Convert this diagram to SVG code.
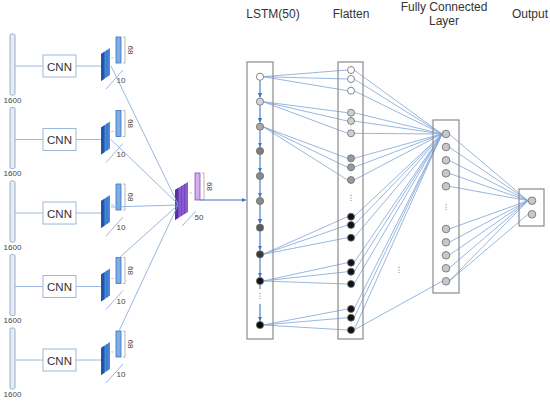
<svg xmlns="http://www.w3.org/2000/svg" width="550" height="401" viewBox="0 0 550 401">
<style>
.t{font-family:"Liberation Sans",Arial,sans-serif;fill:#333}
.lbl{font-size:12px;text-anchor:middle}
.sm{font-size:8px;text-anchor:middle;fill:#444}
.bar{fill:#e8ecf3;stroke:#8ea6c8;stroke-width:0.9}
.cnn{fill:#fff;stroke:#9cb8dc;stroke-width:1}
.ln{stroke:#9cb8dc;stroke-width:1;fill:none}
.cn{stroke:#7ea4d8;stroke-width:0.8;fill:none}
.box{fill:none;stroke:#8a8a8a;stroke-width:1.2}
.nd{stroke:#6a6a6a;stroke-width:0.8}
.arr{stroke:#3d74c8;stroke-width:1.1;fill:none;marker-end:url(#ah)}
.dots{stroke:#777;stroke-width:1;stroke-dasharray:1 1.6;fill:none}
.fdots{stroke:#bbb;stroke-width:0.8;stroke-dasharray:0.8 1.2;fill:none}
</style>
<defs>
<marker id="ah" markerWidth="6" markerHeight="6" refX="4.5" refY="3" orient="auto" markerUnits="userSpaceOnUse">
<path d="M0,0.8 L4.5,3 L0,5.2 Z" fill="#3d74c8"/>
</marker>
<g id="row">
<rect class="bar" x="10" y="34" width="5" height="61" rx="1.5"/>
<text class="t sm" x="12.5" y="102.5">1600</text>
<line class="ln" x1="15" y1="66" x2="43" y2="66"/>
<rect class="cnn" x="43" y="55" width="33" height="22"/>
<text class="t lbl" x="59.5" y="70.5" style="font-size:11.5px">CNN</text>
<line class="ln" x1="76" y1="66" x2="102" y2="66"/>
<polygon points="101,54 110,48 110,75 101,81" fill="#4a86dc"/>
<polygon points="101,54 104.5,51.7 104.5,78.7 101,81" fill="#1f56a8"/>
<line x1="107" y1="50" x2="107" y2="77" stroke="#2a64bc" stroke-width="0.7"/>
<line x1="111" y1="58" x2="114" y2="58" stroke="#aaa" stroke-width="0.6"/>
<rect x="116" y="37" width="5" height="26" fill="#7eaee8" stroke="#3a70c0" stroke-width="0.8"/>
<path d="M123,37 h2 v26 h-2" fill="none" stroke="#999" stroke-width="0.7"/>
<text class="t sm" transform="translate(127.5,50) rotate(90)" style="font-size:8px">68</text>
<line x1="106" y1="89" x2="123" y2="70" stroke="#7ea4d8" stroke-width="0.8"/>
<text class="t sm" x="121" y="83">10</text>
</g>
</defs>

<g id="input-rows">
<g id="row1"><use href="#row"/></g>
<g id="row2"><use href="#row" transform="translate(0,73.5)"/></g>
<g id="row3"><use href="#row" transform="translate(0,147)"/></g>
<g id="row4"><use href="#row" transform="translate(0,220.5)"/></g>
<g id="row5"><use href="#row" transform="translate(0,294)"/></g>
</g>

<g id="merge">
<polygon points="175,190 188,182 188,212 175,220" fill="#8a5ad0"/>
<polygon points="175,190 178.5,187.8 178.5,217.8 175,220" fill="#5a2ea0"/>
<line x1="181.5" y1="185.8" x2="181.5" y2="215.8" stroke="#6a3cb8" stroke-width="0.7"/>
<line x1="184.5" y1="183.9" x2="184.5" y2="213.9" stroke="#6a3cb8" stroke-width="0.7"/>
<line x1="189" y1="193" x2="192" y2="193" stroke="#aaa" stroke-width="0.6"/>
<rect x="195" y="173" width="5" height="27" fill="#d2aeea" stroke="#8a4cc0" stroke-width="0.8"/>
<path d="M202,173 h2 v27 h-2" fill="none" stroke="#999" stroke-width="0.7"/>
<text class="t sm" transform="translate(206.5,186.5) rotate(90)">68</text>
<line x1="182" y1="226" x2="196" y2="211" stroke="#7ea4d8" stroke-width="0.8"/>
<text class="t sm" x="199" y="220">50</text>
</g>

<g id="titles">
<text class="t lbl" x="273" y="18">LSTM(50)</text>
<text class="t lbl" x="351" y="18">Flatten</text>
<text class="t lbl" x="444" y="11">Fully Connected</text>
<text class="t lbl" x="444" y="25">Layer</text>
<text class="t lbl" x="530" y="18">Output</text>
</g>

<g id="connectors">
<line class="cn" x1="111" y1="66" x2="178" y2="204"/>
<line class="cn" x1="111" y1="139.5" x2="178" y2="204"/>
<line class="cn" x1="111" y1="207" x2="178" y2="205"/>
<line class="cn" x1="119" y1="258" x2="178" y2="205"/>
<line class="cn" x1="119" y1="331" x2="178" y2="205"/>
<line x1="200" y1="200" x2="246" y2="200" stroke="#3d74c8" stroke-width="1.2" marker-end="url(#ah)"/>

<g id="lstm-flatten">
<path class="cn" d="M263,76.7 L347.5,70 M263,76.7 L347.5,79 M263,76.7 L347.5,90.7
M263,101.7 L347.5,112.7 M263,101.7 L347.5,121 M263,101.7 L347.5,133.3
M263,126.7 L347.5,158.3 M263,126.7 L347.5,167.3 M263,126.7 L347.5,180
M263,254.3 L347.5,216.7 M263,254.3 L347.5,225 M263,254.3 L347.5,237.7
M263,281 L347.5,262.7 M263,281 L347.5,271.7 M263,281 L347.5,284
M263,325 L347.5,309 M263,325 L347.5,317.7 M263,325 L347.5,330"/>
</g>
<g id="flatten-fc">
<path class="cn" d="M354,70 L442,134 M354,79 L442,134 M354,90.7 L442,134
M354,112.7 L442,134 M354,121 L442,134 M354,133.3 L442,134
M354,158.3 L442,134 M354,167.3 L442,134 M354,180 L442,134
M354,216.7 L442,134 M354,225 L442,134 M354,237.7 L442,134
M354,262.7 L442,134 M354,271.7 L442,134 M354,284 L442,134
M354,309 L442,134 M354,317.7 L442,134 M354,330 L442,134
M354,330 L442,281.3"/>
</g>
<g id="fc-output">
<path class="cn" d="M449,134 L528,200.7 M449,147 L528,200.7 M449,160.3 L528,200.7 M449,173.3 L528,200.7 M449,186.3 L528,200.7
M449,229 L528,200.7 M449,242.3 L528,200.7 M449,255.3 L528,200.7 M449,268.3 L528,200.7 M449,281.3 L528,200.7
M449,281.3 L528,214.3"/>
</g>
<g id="lstm-arrows">
<line class="arr" x1="260" y1="80.5" x2="260" y2="97.5"/>
<line class="arr" x1="260" y1="105.5" x2="260" y2="122.5"/>
<line class="arr" x1="260" y1="130.5" x2="260" y2="147"/>
<line class="arr" x1="260" y1="155" x2="260" y2="172"/>
<line class="arr" x1="260" y1="180" x2="260" y2="197"/>
<line class="arr" x1="260" y1="205" x2="260" y2="223.5"/>
<line class="arr" x1="260" y1="231.5" x2="260" y2="250"/>
<line class="arr" x1="260" y1="258" x2="260" y2="277"/>
<line x1="260" y1="285" x2="260" y2="289" stroke="#3d74c8" stroke-width="1.1"/>
<line class="arr" x1="260" y1="304" x2="260" y2="321"/>
</g>
</g>

<g id="lstm">
<rect class="box" x="247" y="62" width="26" height="277"/>
<circle class="nd" cx="260" cy="76.7" r="3.6" fill="#ffffff"/>
<circle class="nd" cx="260" cy="101.7" r="3.6" fill="#d4d4d4"/>
<circle class="nd" cx="260" cy="126.7" r="3.6" fill="#a8a8a8"/>
<circle class="nd" cx="260" cy="151" r="3.6" fill="#7c7c7c"/>
<circle class="nd" cx="260" cy="176" r="3.6" fill="#8a8a8a"/>
<circle class="nd" cx="260" cy="201" r="3.6" fill="#8a8a8a"/>
<circle class="nd" cx="260" cy="227.7" r="3.6" fill="#5a5a5a"/>
<circle class="nd" cx="260" cy="254.3" r="3.6" fill="#3a3a3a"/>
<circle class="nd" cx="260" cy="281" r="3.6" fill="#151515"/>
<line class="dots" x1="260" y1="293" x2="260" y2="299"/>
<circle class="nd" cx="260" cy="325" r="3.6" fill="#0a0a0a"/>
</g>

<g id="flatten">
<rect class="box" x="338" y="62" width="25" height="277"/>
<circle class="nd" cx="351" cy="70" r="3.5" fill="#fff"/>
<circle class="nd" cx="351" cy="79" r="3.5" fill="#fff"/>
<line class="fdots" x1="351" y1="83.5" x2="351" y2="86.5"/>
<circle class="nd" cx="351" cy="90.7" r="3.5" fill="#fff"/>
<circle class="nd" cx="351" cy="112.7" r="3.5" fill="#d0d0d0"/>
<circle class="nd" cx="351" cy="121" r="3.5" fill="#d0d0d0"/>
<line class="fdots" x1="351" y1="125.5" x2="351" y2="129"/>
<circle class="nd" cx="351" cy="133.3" r="3.5" fill="#d0d0d0"/>
<circle class="nd" cx="351" cy="158.3" r="3.5" fill="#9a9a9a"/>
<circle class="nd" cx="351" cy="167.3" r="3.5" fill="#9a9a9a"/>
<line class="fdots" x1="351" y1="171.5" x2="351" y2="175.5"/>
<circle class="nd" cx="351" cy="180" r="3.5" fill="#9a9a9a"/>
<line class="dots" x1="351" y1="195" x2="351" y2="201"/>
<circle class="nd" cx="351" cy="216.7" r="3.5" fill="#111"/>
<circle class="nd" cx="351" cy="225" r="3.5" fill="#111"/>
<line class="fdots" x1="351" y1="229.5" x2="351" y2="233.5"/>
<circle class="nd" cx="351" cy="237.7" r="3.5" fill="#111"/>
<circle class="nd" cx="351" cy="262.7" r="3.5" fill="#111"/>
<circle class="nd" cx="351" cy="271.7" r="3.5" fill="#111"/>
<line class="fdots" x1="351" y1="276" x2="351" y2="280"/>
<circle class="nd" cx="351" cy="284" r="3.5" fill="#111"/>
<circle class="nd" cx="351" cy="309" r="3.5" fill="#111"/>
<circle class="nd" cx="351" cy="317.7" r="3.5" fill="#111"/>
<line class="fdots" x1="351" y1="322" x2="351" y2="326"/>
<circle class="nd" cx="351" cy="330" r="3.5" fill="#111"/>
</g>

<g id="mid-dots"><line class="dots" x1="399" y1="267" x2="399" y2="273"/></g>

<g id="fc">
<rect class="box" x="433" y="120" width="26" height="173"/>
<circle class="nd" cx="446" cy="134" r="3.8" fill="#c8c8c8"/>
<circle class="nd" cx="446" cy="147" r="3.8" fill="#c8c8c8"/>
<circle class="nd" cx="446" cy="160.3" r="3.8" fill="#c8c8c8"/>
<circle class="nd" cx="446" cy="173.3" r="3.8" fill="#c8c8c8"/>
<circle class="nd" cx="446" cy="186.3" r="3.8" fill="#c8c8c8"/>
<line class="dots" x1="446" y1="204" x2="446" y2="210"/>
<circle class="nd" cx="446" cy="229" r="3.8" fill="#c8c8c8"/>
<circle class="nd" cx="446" cy="242.3" r="3.8" fill="#c8c8c8"/>
<circle class="nd" cx="446" cy="255.3" r="3.8" fill="#c8c8c8"/>
<circle class="nd" cx="446" cy="268.3" r="3.8" fill="#c8c8c8"/>
<circle class="nd" cx="446" cy="281.3" r="3.8" fill="#c8c8c8"/>
</g>

<g id="output">
<rect class="box" x="519" y="189" width="25" height="37"/>
<circle class="nd" cx="532" cy="200.7" r="3.8" fill="#c8c8c8"/>
<circle class="nd" cx="532" cy="214.3" r="3.8" fill="#c8c8c8"/>
</g>
</svg>
